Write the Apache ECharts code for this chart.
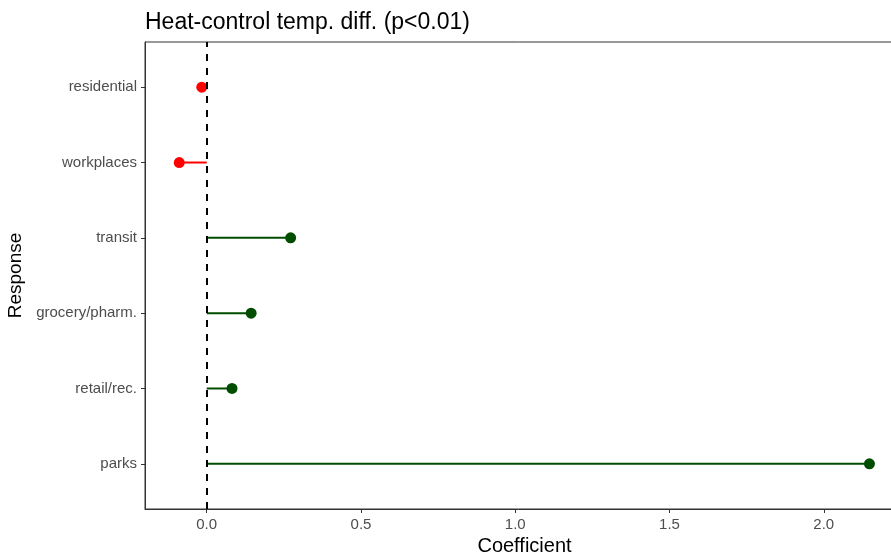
<!DOCTYPE html>
<html>
<head>
<meta charset="utf-8">
<title>Heat-control temp. diff.</title>
<script src="https://cdn.jsdelivr.net/npm/echarts@6/dist/echarts.min.js"></script>
<style>
  html, body { margin: 0; padding: 0; background: #fff; }
  #main { width: 891px; height: 554px; }
</style>
</head>
<body>
<div id="main"></div>
<script>
// categories, top to bottom
var responses = ['residential', 'workplaces', 'transit', 'grocery/pharm.', 'retail/rec.', 'parks']
var coefficients = [-0.016, -0.089, 0.272, 0.144, 0.082, 2.148]
var xTicks = [0, 0.5, 1, 1.5, 2]

// bottom category sits at 1, top at responses.length
var yPos = responses.map(function (name, i) { return responses.length - i })

var posColor = '#004d00'
var negColor = '#ff0000'

var points = coefficients.map(function (v, i) {
  return {
    value: [v, yPos[i]],
    itemStyle: { color: v < 0 ? negColor : posColor, opacity: 1 }
  }
})

var chartDom = document.getElementById('main')
var myChart = echarts.init(chartDom)
var option

option = {
  animation: false,
  textStyle: { fontFamily: 'Liberation Sans, Arial, sans-serif' },
  title: {
    text: 'Heat-control temp. diff. (p<0.01)',
    left: 140,
    top: 6,
    textStyle: {
      color: '#000',
      fontSize: 23,
      fontWeight: 'normal',
      fontFamily: 'Liberation Sans, Arial, sans-serif'
    }
  },
  grid: {
    left: 145,
    top: 42,
    width: 759,
    bottom: 45,
    containLabel: false,
    outerBoundsMode: 'none',
    show: true,
    borderColor: '#333',
    borderWidth: 1,
    backgroundColor: 'transparent'
  },
  xAxis: {
    type: 'value',
    min: -0.2,
    max: 2.26,
    name: 'Coefficient',
    nameLocation: 'middle',
    nameGap: 16,
    nameTextStyle: { color: '#000', fontSize: 20 },
    axisLine: { show: true, onZero: false, lineStyle: { color: '#333' } },
    axisTick: {
      show: true,
      length: 4,
      customValues: xTicks,
      lineStyle: { color: '#333', width: 1 }
    },
    axisLabel: {
      color: '#4d4d4d',
      fontSize: 15,
      margin: 8,
      customValues: xTicks,
      formatter: function (v) { return v.toFixed(1) }
    },
    splitLine: { show: false }
  },
  yAxis: {
    type: 'value',
    min: 0.4,
    max: responses.length + 0.6,
    name: 'Response',
    nameLocation: 'middle',
    nameGap: 114,
    nameTextStyle: { color: '#000', fontSize: 19 },
    axisLine: { show: true, onZero: false, lineStyle: { color: '#333' } },
    axisTick: {
      show: true,
      length: 4,
      customValues: yPos,
      lineStyle: { color: '#333', width: 1 }
    },
    axisLabel: {
      color: '#4d4d4d',
      fontSize: 15,
      margin: 8,
      customValues: yPos,
      formatter: function (v) {
        return responses[responses.length - Math.round(v)]
      }
    },
    splitLine: { show: false }
  },
  series: [
    {
      type: 'custom',
      z: 2,
      data: coefficients.map(function (v, i) { return [v, yPos[i]] }),
      renderItem: function (params, api) {
        var v = api.value(0)
        var y = api.value(1)
        var start = api.coord([0, y])
        var end = api.coord([v, y])
        return {
          type: 'line',
          shape: { x1: start[0], y1: start[1], x2: end[0], y2: end[1] },
          style: { stroke: v < 0 ? negColor : posColor, lineWidth: 2 }
        }
      }
    },
    {
      type: 'scatter',
      z: 3,
      symbolSize: 11,
      data: points,
      markLine: {
        silent: true,
        symbol: 'none',
        label: { show: false },
        lineStyle: { color: '#000', type: [7, 7], width: 2 },
        data: [{ xAxis: 0 }]
      }
    }
  ]
};

option && myChart.setOption(option)

window.addEventListener('resize', () => {
  myChart.resize()
})
</script>
</body>
</html>
